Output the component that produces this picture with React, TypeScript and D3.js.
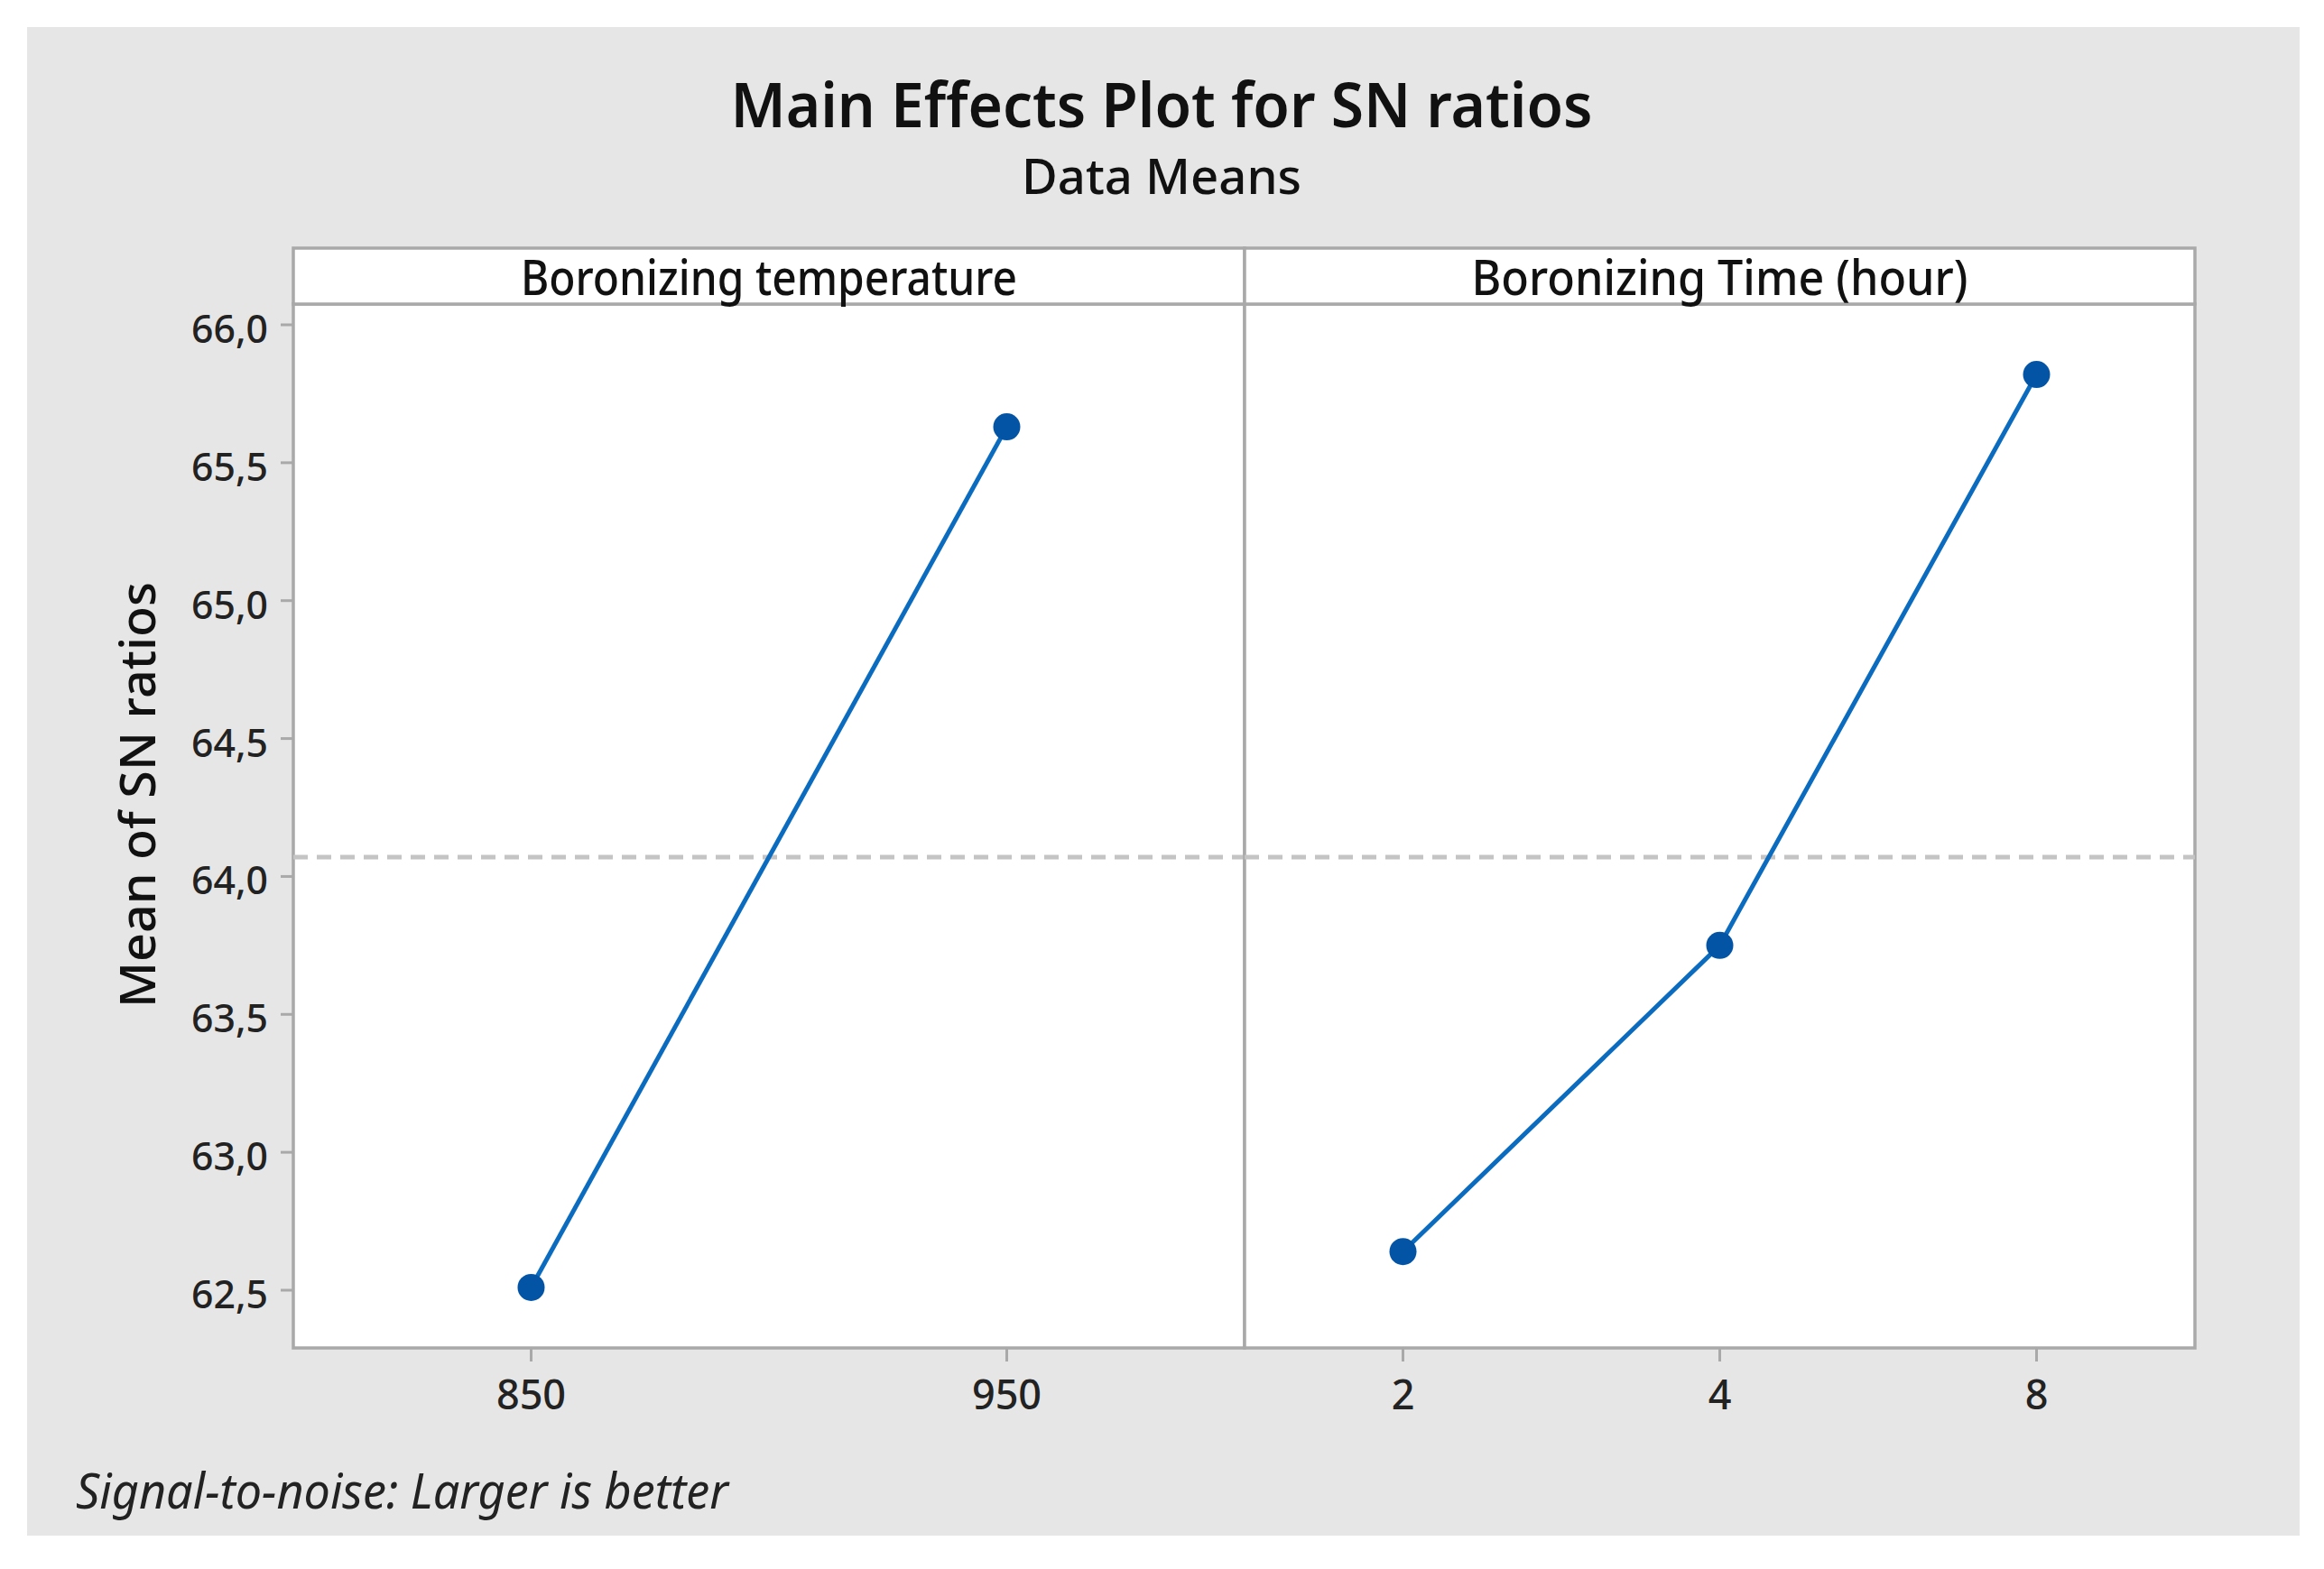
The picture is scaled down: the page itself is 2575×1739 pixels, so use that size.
import React from 'react';
import * as d3 from 'd3';

// Main effects data (means of SN ratios)
const tempLevels = ['850', '950'];
const tempMeans = [62.51, 65.63];
const timeLevels = ['2', '4', '8'];
const timeMeans = [62.64, 63.75, 65.82];
const grandMean = 64.07;
const yTicks = [62.5, 63.0, 63.5, 64.0, 64.5, 65.0, 65.5, 66.0];

const W = 2575;
const H = 1739;
const FONT = '"Noto Sans", "Open Sans", sans-serif';
const AXIS = '#a9a9a9';
const LINE = '#0b6cbf';
const DOT = '#0454a6';

const plotTop = 337;
const plotBottom = 1494;
const stripTop = 275;
const panels = [
  { label: 'Boronizing temperature', levels: tempLevels, means: tempMeans, x0: 325, x1: 1379 },
  { label: 'Boronizing  Time (hour)', levels: timeLevels, means: timeMeans, x0: 1379, x1: 2432 },
];

const y = d3.scaleLinear().domain([62.5, 66.0]).range([1430, 360]);
const fmt = (v: number) => v.toFixed(1).replace('.', ',');

function Panel({ p }: { p: typeof panels[number] }) {
  const x = d3.scalePoint<string>().domain(p.levels).range([p.x0, p.x1]).padding(0.5);
  const pts = p.levels.map((l, i) => [x(l) as number, y(p.means[i])] as [number, number]);
  const line = d3.line()(pts) as string;
  return (
    <g>
      <rect x={p.x0} y={plotTop} width={p.x1 - p.x0} height={plotBottom - plotTop} fill="#fff" stroke={AXIS} strokeWidth={3.5} />
      <rect x={p.x0} y={stripTop} width={p.x1 - p.x0} height={plotTop - stripTop} fill="#fff" stroke={AXIS} strokeWidth={3.5} />
      <text x={(p.x0 + p.x1) / 2} y={327} textAnchor="middle" fontFamily={FONT} fontSize={54} fontWeight={500}
        textLength={550} lengthAdjust="spacingAndGlyphs" fill="#111">{p.label}</text>
      <line x1={p.x0} x2={p.x1} y1={y(grandMean)} y2={y(grandMean)} stroke="#c4c4c4" strokeWidth={5} strokeDasharray="16,10" />
      <path d={line} fill="none" stroke={LINE} strokeWidth={5} />
      {pts.map((d, i) => <circle key={i} cx={d[0]} cy={d[1]} r={15} fill={DOT} />)}
      {p.levels.map(l => (
        <g key={l} transform={`translate(${x(l)},${plotBottom})`}>
          <line y1={0} y2={15} stroke={AXIS} strokeWidth={3} />
          <text y={68} textAnchor="middle" fontFamily={FONT} fontSize={45} fontWeight={500} fill="#222">{l}</text>
        </g>
      ))}
    </g>
  );
}

export default function App() {
  return (
    <svg width={W} height={H} style={{ position: 'absolute', left: 0, top: 0, background: '#fff' }}>
      <rect x={30} y={30} width={2518} height={1672} fill="#e6e6e6" />
      <text x={1287} y={141} textAnchor="middle" fontFamily={FONT} fontSize={68} fontWeight={600}
        textLength={955} lengthAdjust="spacingAndGlyphs" fill="#111">Main Effects Plot for SN ratios</text>
      <text x={1287} y={215} textAnchor="middle" fontFamily={FONT} fontSize={54} fontWeight={500}
        textLength={310} lengthAdjust="spacingAndGlyphs" fill="#111">Data Means</text>

      {panels.map(p => <Panel key={p.label} p={p} />)}

      {/* y axis ticks */}
      {yTicks.map(t => (
        <g key={t} transform={`translate(325,${y(t)})`}>
          <line x1={-14} x2={0} stroke={AXIS} strokeWidth={3} />
          <text x={-28} y={20} textAnchor="end" fontFamily={FONT} fontSize={43} fontWeight={500}
            textLength={85} lengthAdjust="spacingAndGlyphs" fill="#222">{fmt(t)}</text>
        </g>
      ))}
      <text transform="translate(172,881) rotate(-90)" textAnchor="middle" fontFamily={FONT} fontSize={54} fontWeight={500}
        textLength={472} lengthAdjust="spacingAndGlyphs" fill="#111">Mean of SN ratios</text>

      <text x={84} y={1672} fontFamily={FONT} fontStyle="italic" fontSize={54}
        textLength={723} lengthAdjust="spacingAndGlyphs" fill="#222">Signal-to-noise: Larger is better</text>
    </svg>
  );
}
